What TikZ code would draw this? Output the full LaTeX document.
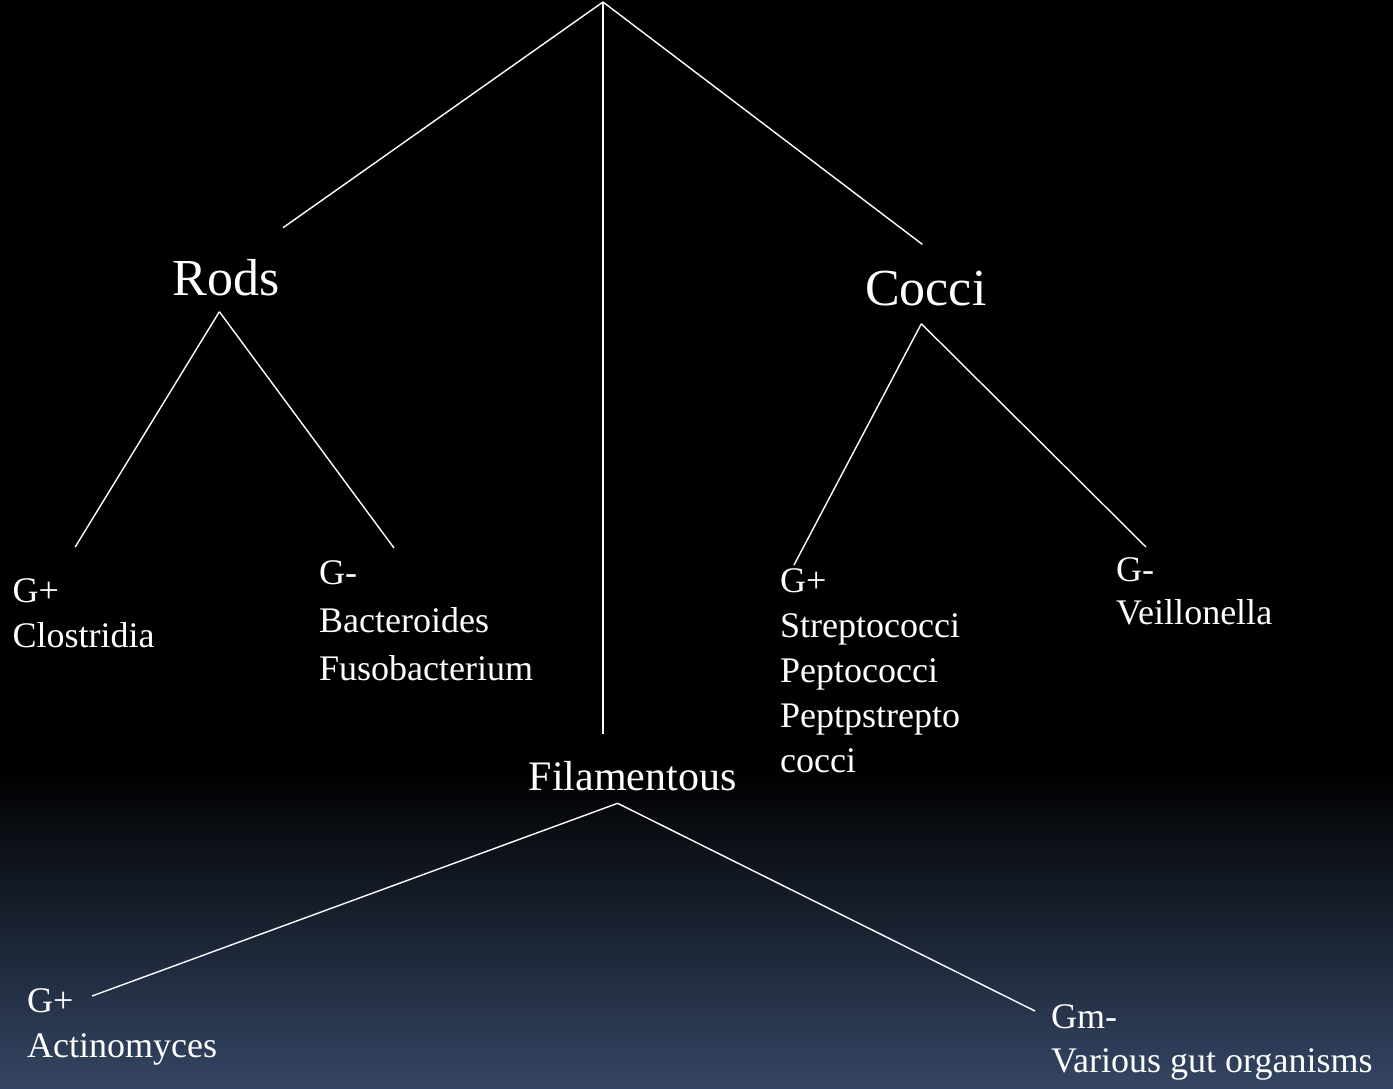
\documentclass[tikz,border=0pt]{standalone}
\usepackage{fontspec}
\setmainfont{Liberation Serif}
\usetikzlibrary{positioning, calc}
\definecolor{slatebottom}{RGB}{52, 69, 99}

\begin{document}
\begin{tikzpicture}[x=1pt, y=-1pt,
    branch/.style={draw=white, line width=1.4pt},
    head/.style={text=white, inner sep=0pt, anchor=base west,
                 font=\fontsize{52}{60}\selectfont},
    leaf/.style={text=white, inner sep=0pt, anchor=north west, align=left,
                 font=\fontsize{36}{45}\selectfont}]
    % BACKGROUND (black, fading to slate at the bottom)
    \fill[black] (0,0) rectangle (1393,1088);
    \shade[top color=black, bottom color=slatebottom] (0,770) rectangle (1393,1088);
    % GROUP HEADINGS
    \node[head] (rods) at (172.7,295) {Rods};
    \node[head] (cocci) at (865,305) {Cocci};
    \node[head, font=\fontsize{42}{50}\selectfont] (fil) at (528.6,790.7) {Filamentous};
    % LEAVES
    \node[leaf] (clos) at (12.5,578) {G+\\Clostridia};
    \node[leaf, font=\fontsize{36}{48}\selectfont] (bact) at (319,560) {G-\\Bacteroides\\Fusobacterium};
    \node[leaf] (strep) at (780,568) {G+\\Streptococci\\Peptococci\\Peptpstrepto\\cocci};
    \node[leaf, font=\fontsize{36}{43}\selectfont] (veil) at (1116,557) {G-\\Veillonella};
    \node[leaf] (act) at (27,988) {G+\\Actinomyces};
    \node[leaf, font=\fontsize{36}{44}\selectfont] (gut) at (1051,1004) {Gm-\\Various gut organisms};
    % FORK POINTS
    \coordinate (root) at (603,2);
    \coordinate (rods fork) at ([shift={(-7,16)}]rods.south);
    \coordinate (cocci fork) at ([shift={(-4.5,18)}]cocci.south);
    \coordinate (fil fork) at ([shift={(-15,12)}]fil.south);
    % TOP BRANCHES
    \draw[branch] (root) -- ([shift={(3,-31)}]rods.north east);
    \draw[branch] (root) -- ($(root |- fil.north)+(0,-27)$);
    \draw[branch] (root) -- ([shift={(-3.5,-26)}]cocci.north);
    % RODS
    \draw[branch] (rods fork) -- ([shift={(-8.5,-31)}]clos.north);
    \draw[branch] (rods fork) -- ([shift={(75,-12)}]bact.north west);
    % COCCI
    \draw[branch] (cocci fork) -- ([shift={(14,-3)}]strep.north west);
    \draw[branch] (cocci fork) -- ([shift={(30,-10)}]veil.north west);
    % FILAMENTOUS
    \draw[branch] (fil fork) -- ([shift={(65,8)}]act.north west);
    \draw[branch] (fil fork) -- ([shift={(-16,7)}]gut.north west);
\end{tikzpicture}
\end{document}
